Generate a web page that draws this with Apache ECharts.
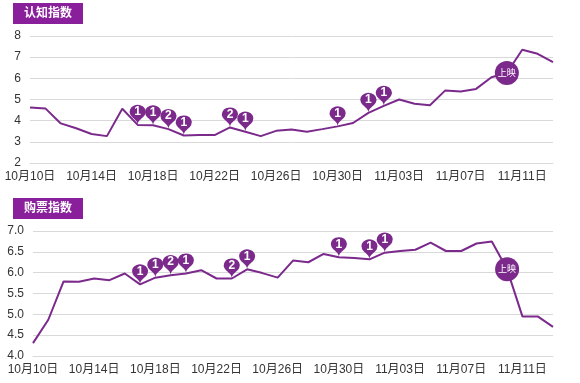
<!DOCTYPE html>
<html>
<head>
<meta charset="utf-8">
<script src="https://cdn.jsdelivr.net/npm/echarts@6/dist/echarts.min.js"></script>
<style>
html,body{margin:0;padding:0;background:#fff;}
#c{width:580px;height:383px;}
</style>
</head>
<body>
<div id="c"></div>
<script>
const dates = ['10月10日','10月11日','10月12日','10月13日','10月14日','10月15日','10月16日','10月17日','10月18日','10月19日','10月20日','10月21日','10月22日','10月23日','10月24日','10月25日','10月26日','10月27日','10月28日','10月29日','10月30日','10月31日','11月01日','11月02日','11月03日','11月04日','11月05日','11月06日','11月07日','11月08日','11月09日','11月10日','11月11日','11月12日','11月13日'];
const awareness = [4.62,4.58,3.87,3.64,3.37,3.27,4.56,3.8,3.78,3.6,3.3,3.32,3.32,3.68,3.48,3.27,3.52,3.58,3.48,3.6,3.73,3.89,4.37,4.7,5.0,4.8,4.73,5.43,5.38,5.5,6.05,6.25,7.35,7.16,6.76];
const purchase = [4.31,4.87,5.79,5.78,5.86,5.82,5.98,5.72,5.88,5.94,5.98,6.06,5.86,5.86,6.08,5.99,5.88,6.29,6.25,6.45,6.37,6.35,6.32,6.48,6.52,6.55,6.72,6.52,6.52,6.7,6.75,6.08,4.95,4.95,4.7];
const eventIdx = [7,8,9,10,13,14,20,22,23];
const eventNum = ['1','1','2','1','2','1','1','1','1'];
const releaseIdx = 31;
const releaseText = '上映';
const titles = ['认知指数','购票指数'];

const PURPLE = '#7B2A8C';
const FONT = '"Liberation Sans","Noto Sans CJK SC",sans-serif';

function marks(values){
  const d = eventIdx.map((i,k)=>({
    coord:[dates[i], values[i]],
    value:eventNum[k],
    symbol:'pin',
    symbolSize:[27,23],
    itemStyle:{color:PURPLE},
    label:{show:true,formatter:eventNum[k],color:'#fff',fontSize:12,fontWeight:'bold',fontFamily:FONT,offset:[0,-1]}
  }));
  d.push({
    coord:[dates[releaseIdx], values[releaseIdx]],
    symbol:'circle',
    symbolSize:24,
    itemStyle:{color:PURPLE},
    label:{show:true,formatter:releaseText,color:'#fff',fontSize:9,fontFamily:FONT}
  });
  return d;
}

const chart = echarts.init(document.getElementById('c'));
const xAxisBase = {
  type:'category', data:dates, boundaryGap:false,
  axisLine:{show:true,lineStyle:{color:'#d9d9d9'}},
  axisTick:{show:false},
  axisLabel:{interval:3,color:'#333',fontSize:12,fontFamily:FONT,margin:8}
};
const yAxisBase = {
  type:'value',
  axisLine:{show:false}, axisTick:{show:false},
  splitLine:{lineStyle:{color:'#d9d9d9'}},
  axisLabel:{color:'#333',fontSize:12,fontFamily:FONT,margin:9}
};
chart.setOption({
  animation:false,
  title:titles.map((t,k)=>({
    text:t, left:13, top:k===0?3:198,
    backgroundColor:'#8A1F9C',
    padding:[4,11,3,11],
    textStyle:{color:'#fff',fontSize:12,fontWeight:'bold',fontFamily:FONT,lineHeight:14}
  })),
  grid:[
    {left:30,right:27,top:36,height:127},
    {left:33,right:27,top:231,height:125}
  ],
  xAxis:[
    Object.assign({gridIndex:0},xAxisBase),
    Object.assign({gridIndex:1},xAxisBase)
  ],
  yAxis:[
    Object.assign({gridIndex:0,min:2,max:8,interval:1},yAxisBase),
    Object.assign({gridIndex:1,min:4,max:7,interval:0.5},yAxisBase,{axisLabel:Object.assign({},yAxisBase.axisLabel,{formatter:v=>v.toFixed(1)})})
  ],
  series:[
    {type:'line',xAxisIndex:0,yAxisIndex:0,data:awareness,symbol:'none',lineStyle:{color:PURPLE,width:2},
     markPoint:{data:marks(awareness)}},
    {type:'line',xAxisIndex:1,yAxisIndex:1,data:purchase,symbol:'none',lineStyle:{color:PURPLE,width:2},
     markPoint:{data:marks(purchase)}}
  ]
});
</script>
</body>
</html>
